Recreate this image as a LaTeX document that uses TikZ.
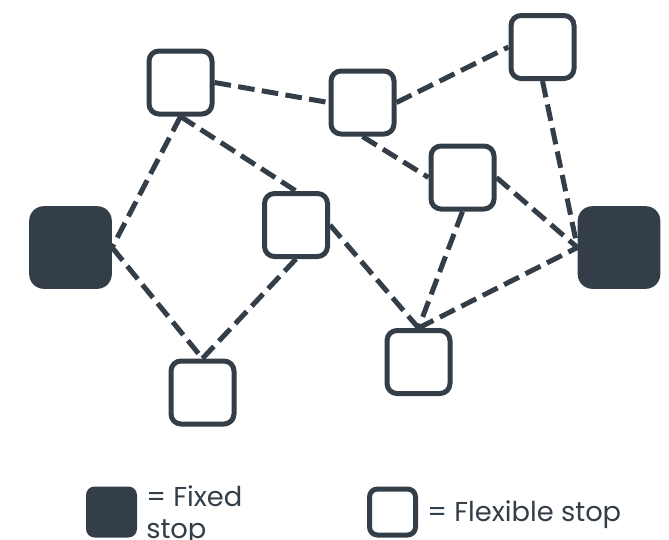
\documentclass[tikz,border=0pt]{standalone}
\usepackage{fontspec}
\setmainfont{Poppins}
\usetikzlibrary{backgrounds}
\definecolor{ink}{HTML}{343E48}
\begin{document}
\begin{tikzpicture}[x=0.75pt,y=-0.75pt,
 flex/.style={draw=ink,fill=white,line width=3.75pt,rounded corners=7.5pt,minimum size=47.25pt,inner sep=0pt},
 fixed/.style={fill=ink,rounded corners=11pt,minimum size=62pt,inner sep=0pt},
 legflex/.style={draw=ink,fill=white,line width=3.75pt,rounded corners=6pt,minimum size=34.5pt,inner sep=0pt},
 legfixed/.style={fill=ink,rounded corners=6.5pt,minimum size=38.25pt,inner sep=0pt},
 route/.style={draw=ink,line width=3.75pt,dash pattern=on 12.5pt off 5.5pt},
 legtext/.style={text=ink,font=\fontsize{20.5}{24}\selectfont,inner sep=0pt,anchor=base west,align=left}]
\useasboundingbox (0,0) rectangle (669,540);
\node[flex] (A) at (180.5,82.5) {};
\node[flex] (B) at (362.5,102.5) {};
\node[flex] (C) at (542.5,47) {};
\node[flex] (D) at (462.5,177.5) {};
\node[flex] (E) at (296,225) {};
\node[flex] (F) at (418.5,362) {};
\node[flex] (G) at (202.5,392.5) {};
\node[fixed] (L) at (70.5,247.5) {};
\node[fixed] (R) at (619,247.5) {};
\begin{pgfonlayer}{background}
\draw[route] (A.east) -- (B.west);
\draw[route] (B.east) -- (C.west);
\draw[route] (C.south) -- (R.west);
\draw[route] (A.south) -- (L.east);
\draw[route] (A.south) -- (E.north);
\draw[route] (B.south) -- (D.west);
\draw[route] (D.east) -- (R.west);
\draw[route] (L.east) -- (G.north);
\draw[route] (E.south) -- (G.north);
\draw[route] (E.east) -- (F.north);
\draw[route] (D.south) -- (F.north);
\draw[route] (F.north) -- (R.west);
\end{pgfonlayer}
\node[legfixed] (k1) at (111.5,512) {};
\node[legtext] (t1) at (146,538) {= Fixed\\stop};
\node[legflex] (k2) at (392.5,512) {};
\node[legtext] (t2) at (427,521) {= Flexible stop};
\end{tikzpicture}
\end{document}
